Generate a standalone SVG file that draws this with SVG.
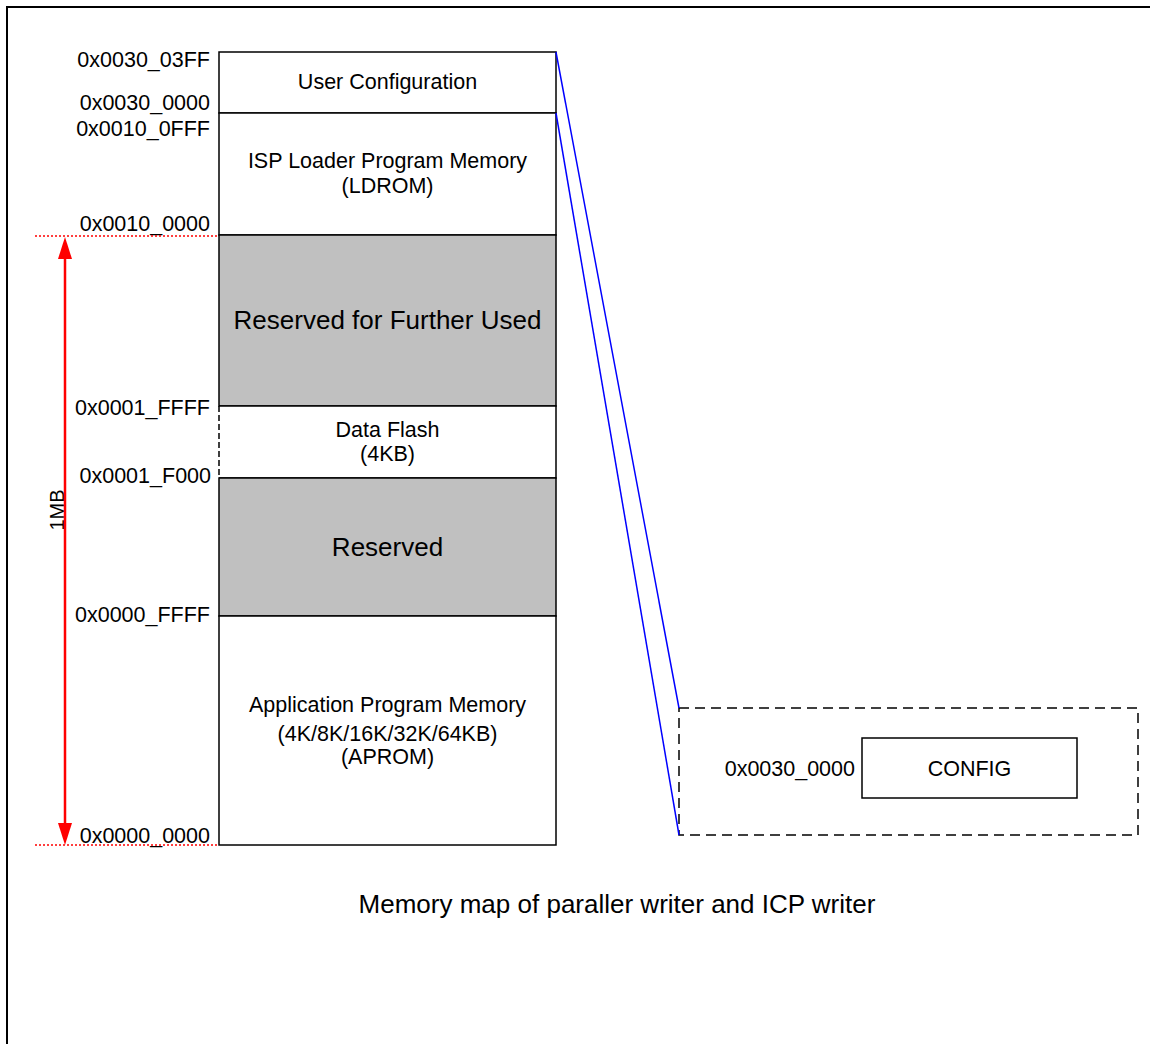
<svg xmlns="http://www.w3.org/2000/svg" width="1150" height="1044" viewBox="0 0 1150 1044">
<defs>
<style>
text{font-family:"Liberation Sans",Arial,sans-serif;fill:#000}
.lbl{font-size:21.5px;text-anchor:end}
.c{font-size:21.5px;text-anchor:middle}
.big{font-size:26px;text-anchor:middle}
.box{fill:#fff;stroke:#000;stroke-width:1.5}
.gray{fill:#c0c0c0;stroke:#000;stroke-width:1.5}
.blue{stroke:#0000ff;stroke-width:1.5;fill:none}
.reddot{stroke:#ff0000;stroke-width:1.5;stroke-dasharray:2 2;fill:none}
.red{fill:#ff0000}
</style>
</defs>
<rect width="1150" height="1044" fill="#fff"/>
<rect x="7" y="7" width="1200" height="1100" fill="none" stroke="#000" stroke-width="2"/>

<g id="user-config">
<rect class="box" x="219" y="52" width="337" height="61"/>
<text class="c" x="387.5" y="89">User Configuration</text>
</g>
<g id="ldrom">
<rect class="box" x="219" y="113" width="337" height="122"/>
<text class="c" x="387.5" y="168">ISP Loader Program Memory</text>
<text class="c" x="387.5" y="193">(LDROM)</text>
</g>
<g id="reserved-further">
<rect class="gray" x="219" y="235" width="337" height="171"/>
<text class="big" x="387.5" y="329">Reserved for Further Used</text>
</g>
<g id="data-flash">
<rect x="219" y="406" width="337" height="72" fill="#fff"/>
<path d="M219,406 H556 V478 H219" fill="none" stroke="#000" stroke-width="1.5"/>
<path d="M219,406 V478" fill="none" stroke="#000" stroke-width="1.5" stroke-dasharray="6 3"/>
<text class="c" x="387.5" y="437">Data Flash</text>
<text class="c" x="387.5" y="461">(4KB)</text>
</g>
<g id="reserved">
<rect class="gray" x="219" y="478" width="337" height="138"/>
<text class="big" x="387.5" y="556">Reserved</text>
</g>
<g id="aprom">
<rect class="box" x="219" y="616" width="337" height="229"/>
<text class="c" x="387.5" y="712">Application Program Memory</text>
<text class="c" x="387.5" y="741">(4K/8K/16K/32K/64KB)</text>
<text class="c" x="387.5" y="764">(APROM)</text>
</g>

<g id="addr-labels">
<text class="lbl" x="210" y="67">0x0030_03FF</text>
<text class="lbl" x="210" y="110">0x0030_0000</text>
<text class="lbl" x="210" y="136">0x0010_0FFF</text>
<text class="lbl" x="210" y="231">0x0010_0000</text>
<text class="lbl" x="210" y="415">0x0001_FFFF</text>
<text class="lbl" x="211" y="483">0x0001_F000</text>
<text class="lbl" x="210" y="622">0x0000_FFFF</text>
<text class="lbl" x="210" y="843">0x0000_0000</text>
</g>

<g id="size-marker">
<text font-size="20" text-anchor="middle" transform="translate(64,510) rotate(-90)">1MB</text>
</g>

<g id="config-region">
<rect x="679" y="708" width="459" height="127" fill="none" stroke="#000" stroke-width="1.5" stroke-dasharray="10 6"/>
<text class="lbl" x="855" y="776">0x0030_0000</text>
</g>
<g id="config">
<rect class="box" x="862" y="738" width="215" height="60"/>
<text class="c" x="969.5" y="776">CONFIG</text>
</g>

<g id="connectors">
<line class="reddot" x1="35" y1="236" x2="219" y2="236"/>
<line class="reddot" x1="35" y1="845" x2="219" y2="845"/>
<line x1="65" y1="250" x2="65" y2="832" stroke="#ff0000" stroke-width="2.5"/>
<path class="red" d="M58,259 L65,237 L72,259 Z"/>
<path class="red" d="M58,823 L65,845 L72,823 Z"/>
<line class="blue" x1="556" y1="52" x2="679" y2="708"/>
<line class="blue" x1="556" y1="113" x2="679" y2="835"/>
</g>

<g id="caption">
<text font-size="26" text-anchor="middle" x="617" y="913">Memory map of paraller writer and ICP writer</text>
</g>
</svg>
